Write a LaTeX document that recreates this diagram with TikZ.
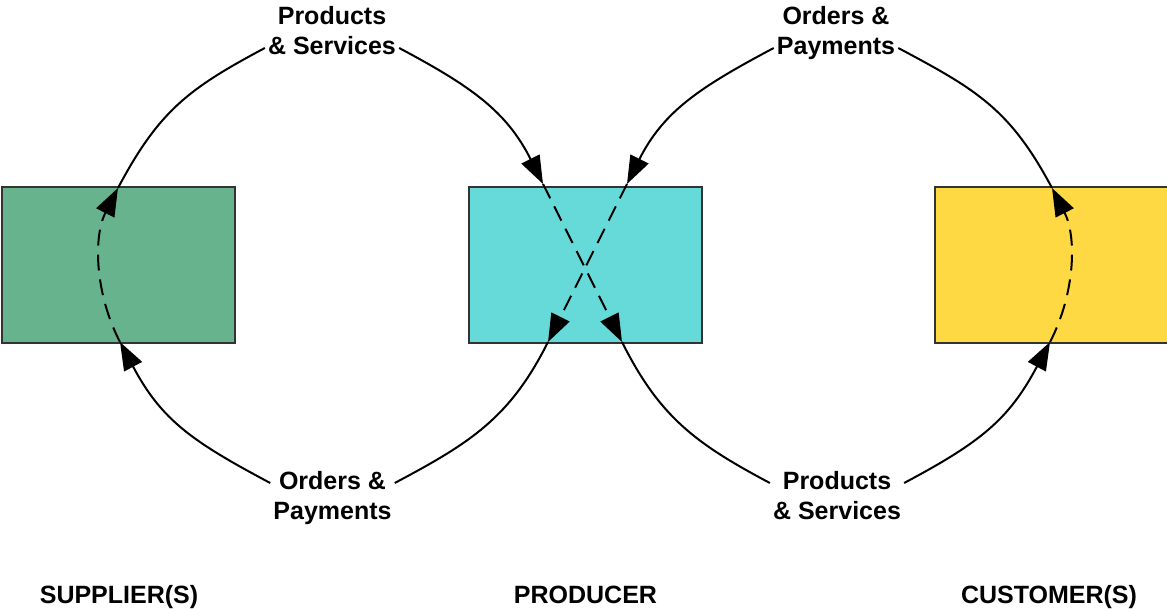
\documentclass[tikz,border=0pt]{standalone}
\usepackage{fontspec}
\setmainfont{Liberation Sans}
\usetikzlibrary{arrows.meta}
\definecolor{supgreen}{HTML}{67B38D}
\definecolor{prodcyan}{HTML}{66DAD9}
\definecolor{custyellow}{HTML}{FFD944}
\definecolor{edgegray}{HTML}{333333}
\begin{document}
\begin{tikzpicture}[x=1pt,y=1pt,
  box/.style={draw=edgegray, line width=2pt, minimum width=233pt, minimum height=156pt, inner sep=0pt, outer sep=0pt},
  lab/.style={font=\fontsize{25}{30}\selectfont\bfseries, align=center, inner sep=3pt},
  rolename/.style={font=\fontsize{25}{30}\selectfont\bfseries, anchor=base, inner sep=0pt},
  flow/.style={line width=2pt},
  tip/.style={-{Triangle[length=28pt,width=20pt]}},
  hidden/.style={flow, dash pattern=on 16pt off 9pt},
]
\useasboundingbox (0,0) rectangle (1167,608);
% boxes
\node[box, fill=supgreen] (sup) at (118.5,343) {};
\node[box, fill=prodcyan] (prod) at (585.5,343) {};
\node[box, fill=custyellow] (cust) at (1051.5,343) {};
% labels
\node[lab] (ps1) at (332,577) {Products\\\& Services};
\node[lab] (op1) at (836,574.6) {Orders \&\\Payments};
\node[lab] (op2) at (332.5,109.6) {Orders \&\\Payments};
\node[lab] (ps2) at (837,112) {Products\\\& Services};
\node[rolename] (nsup) at (119,5) {SUPPLIER(S)};
\node[rolename] (nprod) at (585.5,5) {PRODUCER};
\node[rolename] (ncust) at (1049,5) {CUSTOMER(S)};
% connection points on boxes
\coordinate (st) at (118,420);
\coordinate (sb) at (120,266);
\coordinate (pa) at (543,424);
\coordinate (pb) at (622,266);
\coordinate (pc) at (627,424);
\coordinate (pd) at (548,266);
\coordinate (ct) at (1052,420);
\coordinate (cb) at (1050,266);
% supplier loop
\draw[flow,tip] ([yshift=15.4pt]op2.west) to[out=152,in=-62,looseness=1.1] (sb);
\draw[hidden,tip] (sb) .. controls (95,314) and (93,371) .. (st);
\draw[flow] (st) to[out=62,in=208,looseness=1.1] ([yshift=-17pt]ps1.west);
% producer crossing
\draw[flow,tip] ([yshift=-17pt]ps1.east) to[out=-28,in=116.6,looseness=1.05] (pa);
\draw[hidden,tip] (pa) -- (pb);
\draw[flow] (pb) to[out=-63.4,in=152,looseness=1.05] ([yshift=13pt]ps2.west);
% customer loop
\draw[flow,tip] ([yshift=13pt]ps2.east) to[out=28,in=242,looseness=1.1] (cb);
\draw[hidden,tip] (cb) .. controls (1075,314) and (1077,371) .. (ct);
\draw[flow] (ct) to[out=118,in=-28,looseness=1.1] ([yshift=-14.6pt]op1.east);
\draw[flow,tip] ([yshift=-14.6pt]op1.west) to[out=-152,in=63.4,looseness=1.05] (pc);
\draw[hidden,tip] (pc) -- (pd);
\draw[flow] (pd) to[out=-116.6,in=28,looseness=1.05] ([yshift=15.4pt]op2.east);
\end{tikzpicture}
\end{document}
